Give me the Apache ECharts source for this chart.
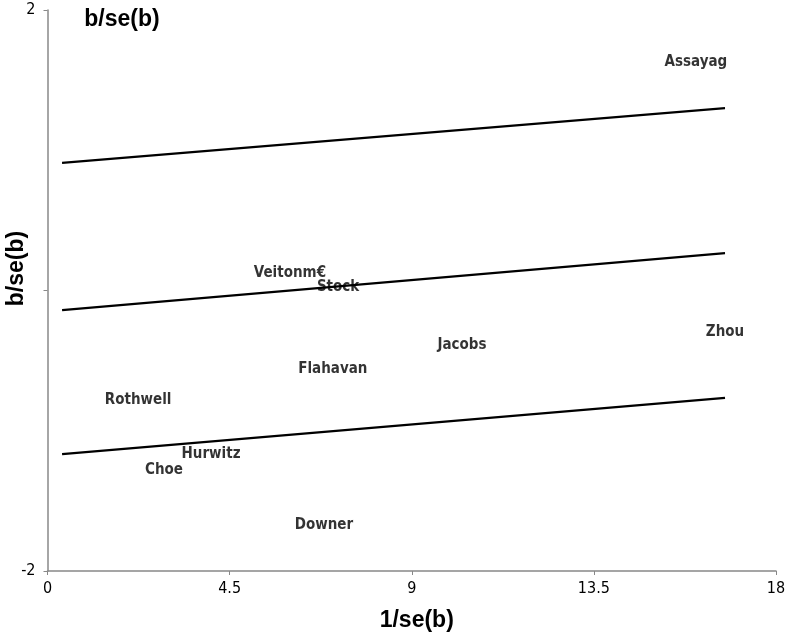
<!DOCTYPE html>
<html>
<head>
<meta charset="utf-8">
<script src="https://cdn.jsdelivr.net/npm/echarts@6/dist/echarts.min.js"></script>
<style>
html,body{margin:0;padding:0;background:#fff;}
#c{width:787px;height:634px;}
</style>
</head>
<body>
<div id="c"></div>
<script>
// Study labels (name, 1/se(b), b/se(b))
var studyNames = ['Assayag','Zhou','Jacobs','Veitonm€','Stock','Flahavan','Rothwell','Hurwitz','Choe','Downer'];
var studyX = [16.02, 16.74, 10.24, 5.99, 7.18, 7.05, 2.24, 4.04, 2.88, 6.83];
var studyY = [1.63, -0.30, -0.39, 0.125, 0.025, -0.56, -0.78, -1.17, -1.28, -1.67];

// Regression line and bounds (start x, end x)
var lineX = [0.36, 16.74];
var upperY = [0.91, 1.30];
var middleY = [-0.14, 0.267];
var lowerY = [-1.166, -0.766];

// Axis ticks
var xTicks = [0, 4.5, 9, 13.5, 18];
var yTicks = [-2, 0, 2];

var narrow = "'Liberation Sans Narrow', 'Arial Narrow', 'DejaVu Sans Condensed', 'Liberation Sans', sans-serif";
var bold = "'Liberation Sans', Arial, sans-serif";

function pts(xs, ys){ return xs.map(function(x,i){ return [x, ys[i]]; }); }

var chart = echarts.init(document.getElementById('c'), null, {renderer:'canvas'});
var lineStyle = {color:'#000', width:2.2};
chart.setOption({
  backgroundColor:'#fff',
  animation:false,
  title:{
    text:'b/se(b)', left:117, top:3, textAlign:'center',
    textStyle:{fontFamily:bold, fontWeight:'bold', fontSize:23, color:'#000'}
  },
  grid:{left:47.5, right:11, top:10, bottom:63, containLabel:false, outerBoundsMode:'none'},
  xAxis:{
    type:'value', min:0, max:18, interval:4.5,
    name:'1/se(b)', nameLocation:'middle', nameGap:38, nameMoveOverlap:false,
    nameTextStyle:{fontFamily:bold, fontWeight:'bold', fontSize:23, color:'#000', padding:[0,0,0,10]},
    axisLine:{show:true, onZero:false, lineStyle:{color:'#888', width:1.5}},
    axisTick:{show:true, length:4, lineStyle:{color:'#888'}},
    splitLine:{show:false},
    axisLabel:{fontFamily:narrow, fontSize:16, color:'#000', margin:10,
      formatter:function(v){ return xTicks.indexOf(v) >= 0 ? String(v) : ''; }}
  },
  yAxis:{
    type:'value', min:-2, max:2, interval:2,
    name:'b/se(b)', nameLocation:'middle', nameGap:19, nameRotate:90, nameMoveOverlap:false,
    nameTextStyle:{fontFamily:bold, fontWeight:'bold', fontSize:23, color:'#000', padding:[0,0,0,44]},
    axisLine:{show:true, onZero:false, lineStyle:{color:'#888', width:1.5}},
    axisTick:{show:true, length:4, lineStyle:{color:'#888'}},
    splitLine:{show:false},
    axisLabel:{fontFamily:narrow, fontSize:16, color:'#000', margin:12,
      formatter:function(v){ return (v === 0 || yTicks.indexOf(v) < 0) ? '' : String(v); }}
  },
  series:[
    {type:'line', data:pts(lineX, upperY), showSymbol:false, symbol:'none', lineStyle:lineStyle, silent:true},
    {type:'line', data:pts(lineX, middleY), showSymbol:false, symbol:'none', lineStyle:lineStyle, silent:true},
    {type:'line', data:pts(lineX, lowerY), showSymbol:false, symbol:'none', lineStyle:lineStyle, silent:true},
    {type:'scatter', symbolSize:0, itemStyle:{color:'rgba(0,0,0,0)'},
      data:studyNames.map(function(n,i){ return {name:n, value:[studyX[i], studyY[i]]}; }),
      label:{show:true, position:'inside', formatter:function(p){ return p.name; },
        fontFamily:narrow, fontWeight:'bold', fontSize:15, color:'#000'}}
  ]
});
</script>
</body>
</html>
